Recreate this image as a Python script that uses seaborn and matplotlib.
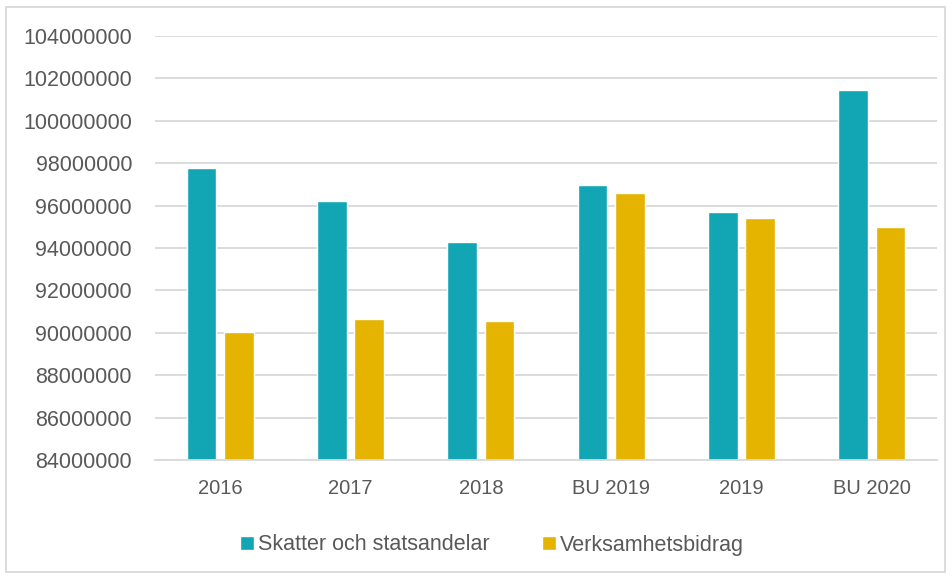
import matplotlib
matplotlib.use("Agg")
import matplotlib.pyplot as plt
import seaborn as sns
import pandas as pd
from matplotlib.patches import Rectangle

categories = ["2016", "2017", "2018", "BU 2019", "2019", "BU 2020"]
skatter = [97760000, 96200000, 94270000, 96990000, 95680000, 101470000]
verksamhet = [90060000, 90660000, 90540000, 96600000, 95430000, 94990000]
series_names = ["Skatter och statsandelar", "Verksamhetsbidrag"]
yticks = list(range(84000000, 104000001, 2000000))

df = pd.DataFrame({
    "cat": categories * 2,
    "value": skatter + verksamhet,
    "series": [series_names[0]] * len(categories) + [series_names[1]] * len(categories),
})

sns.set_theme(style="white")
plt.rcParams['font.family'] = ['Liberation Sans', 'DejaVu Sans']

text_color = "#595959"
grid_color = "#D9D9D9"
palette = {series_names[0]: "#12A6B5", series_names[1]: "#E4B400"}

fig = plt.figure(figsize=(9.52, 5.79), dpi=100)
ax = fig.add_axes([155/952, 1-460/579, (937-155)/952, (460-36)/579])

sns.barplot(data=df, x="cat", y="value", hue="series", order=categories,
            hue_order=series_names, palette=palette, width=0.572, gap=0.205,
            saturation=1, ax=ax, legend=True)

ax.set_ylim(84000000, 104000000)
ax.set_xlim(-0.5, 5.5)
ax.set_yticks(yticks)
ax.set_yticklabels([str(v) for v in yticks])
ax.yaxis.grid(True, color=grid_color, linewidth=1.3)
ax.set_axisbelow(True)
for s in ["top", "right", "left"]:
    ax.spines[s].set_visible(False)
ax.spines["bottom"].set_color(grid_color)
ax.spines["bottom"].set_linewidth(1.3)
ax.tick_params(axis="y", length=0, pad=16.5, labelsize=15.5, labelcolor=text_color)
ax.tick_params(axis="x", length=0, pad=14, labelsize=14.5, labelcolor=text_color)
ax.set_xlabel("")
ax.set_ylabel("")

handles, labels = ax.get_legend_handles_labels()
ax.legend_.remove()
fig.legend(handles, labels, loc="center", bbox_to_anchor=(492/952, 1-545/579),
           ncol=2, frameon=False, fontsize=15.5, handlelength=0.65,
           handleheight=0.65, handletextpad=0.2, columnspacing=2.4,
           labelcolor=text_color)

fig.patches.append(Rectangle((6/952, 1-572/579), (945-6)/952, (572-7)/579,
                             transform=fig.transFigure, fill=False,
                             edgecolor=grid_color, linewidth=1.3))

fig.savefig("out.png", dpi=100)
